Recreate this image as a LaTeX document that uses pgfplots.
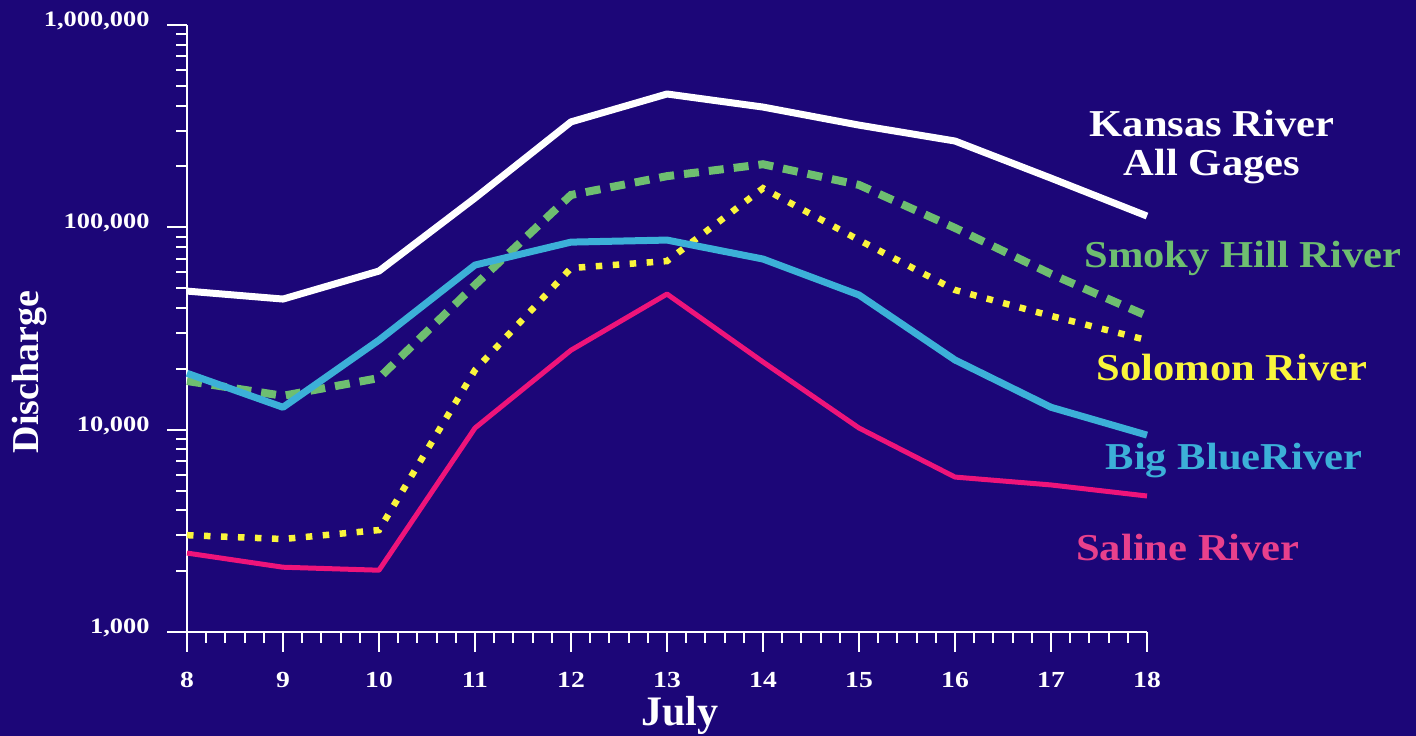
\documentclass[border=0pt]{standalone}
\usepackage{fontspec}
\setmainfont{Liberation Serif}
\newfontfamily\tickfont{Liberation Serif}[FakeStretch=1.2]
\newfontfamily\labfont{Liberation Serif}[FakeStretch=1.12]
\usepackage{pgfplots}
\pgfplotsset{compat=1.18}

\definecolor{bg}{RGB}{28,6,120}
\definecolor{kansas}{RGB}{255,255,255}
\definecolor{smoky}{RGB}{110,190,112}
\definecolor{solomon}{RGB}{250,245,60}
\definecolor{bigblue}{RGB}{60,176,216}
\definecolor{saline}{RGB}{238,20,122}
\definecolor{salinelab}{RGB}{232,64,140}

\begin{document}
\begin{tikzpicture}[x=1pt,y=1pt]
\fill[bg] (0,0) rectangle (1416,736);
\begin{axis}[
  at={(187pt,104pt)}, anchor=south west,
  scale only axis, width=960pt, height=607pt,
  ymode=log,
  xmin=8, xmax=18, ymin=1000, ymax=1000000,
  axis lines*=left,
  axis line style={white, line width=2pt},
  tick style={white, line width=2pt},
  tick align=outside,
  major tick length=20pt, minor tick length=11pt,
  xtick={8,...,18}, minor x tick num=4,
  xticklabels={8,9,10,11,12,13,14,15,16,17,18},
  ytick={1000,10000,100000,1000000},
  minor ytick={2000,3000,4000,5000,6000,7000,8000,9000,
               20000,30000,40000,50000,60000,70000,80000,90000,
               200000,300000,400000,500000,600000,700000,800000,900000},
  yticklabels={{1,000},{10,000},{100,000},{1,000,000}},
  ticklabel style={white},
  yticklabel style={font=\tickfont\bfseries\fontsize{22}{22}\selectfont, anchor=east, xshift=-14pt, yshift=4pt},
  xticklabel style={font=\tickfont\bfseries\fontsize{23}{23}\selectfont, anchor=north, yshift=-17pt},
  clip=false,
]
% Kansas River, all gages
\addplot[kansas, line width=7pt, line join=round] coordinates {
  (8,48400) (9,44200) (10,60800) (11,139600) (12,332000) (13,456000)
  (14,393000) (15,320000) (16,267000) (17,175000) (18,113700)};
% Smoky Hill River
\addplot[smoky, line width=8pt, dash pattern=on 15pt off 10pt] coordinates {
  (8,17400) (9,14700) (10,18000) (11,51900) (12,144500) (13,179000)
  (14,205000) (15,162000) (16,99300) (17,58800) (18,36500)};
% Solomon River
\addplot[solomon, line width=6.5pt, dash pattern=on 6.5pt off 10.5pt] coordinates {
  (8,3010) (9,2880) (10,3190) (11,19700) (12,62900) (13,68100)
  (14,156000) (15,86500) (16,49000) (17,36500) (18,27700)};
% Big Blue River
\addplot[bigblue, line width=7pt, line join=round] coordinates {
  (8,19000) (9,12900) (10,27700) (11,65100) (12,84500) (13,86500)
  (14,69700) (15,46300) (16,22100) (17,12900) (18,9400)};
% Saline River
\addplot[saline, line width=5pt, line join=round] coordinates {
  (8,2455) (9,2090) (10,2020) (11,10190) (12,24700) (13,46800)
  (14,21600) (15,10190) (16,5830) (17,5330) (18,4700)};
\end{axis}

\begin{scope}[every node/.style={font=\labfont\bfseries\fontsize{38}{39}\selectfont, inner sep=0pt}]
\node[white, align=center] at (1212,589) {Kansas River\\All Gages};
\node[smoky] at (1243,478) {Smoky Hill River};
\node[solomon] at (1232,368) {Solomon River};
\node[bigblue] at (1234,275) {Big BlueRiver};
\node[salinelab] at (1188,188) {Saline River};
\node[white, rotate=90, font=\bfseries\fontsize{38}{40}\selectfont] at (30,364) {Discharge};
\node[white, font=\bfseries\fontsize{42}{44}\selectfont] at (680,21) {July};
\end{scope}
\pgfresetboundingbox
\useasboundingbox (0,0) rectangle (1416,736);
\end{tikzpicture}
\end{document}
